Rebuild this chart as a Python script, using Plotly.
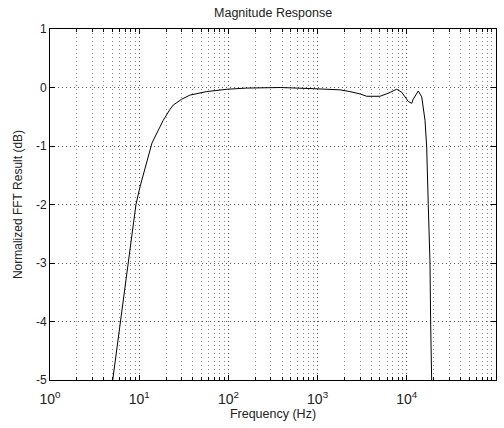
import plotly.graph_objects as go

freq_hz = [5.05, 6.2, 7.55, 9.2, 10.2, 12.0, 13.9, 17.0, 18.6, 22.0, 24.1, 30.0, 37.0,
           57.0, 96.0, 160.0, 380.0, 890.0, 1380.0, 1780.0, 2300.0, 3000.0, 3550.0,
           5000.0, 6150.0, 7700.0, 8770.0, 9600.0, 10400.0, 11350.0, 11800.0, 13450.0,
           14700.0, 16000.0, 16700.0, 17400.0, 18200.0, 18500.0, 19000.0]
mag_db = [-5.0, -4.0, -3.0, -2.0, -1.7, -1.3, -0.95, -0.68, -0.56, -0.38, -0.3, -0.2, -0.13,
          -0.07, -0.03, -0.01, 0.0, -0.02, -0.03, -0.04, -0.07, -0.11, -0.15,
          -0.15, -0.1, -0.03, -0.08, -0.17, -0.24, -0.27, -0.2, -0.06,
          -0.16, -0.56, -1.01, -2.0, -3.0, -4.0, -5.0]

x_tickvals = [1, 10, 100, 1000, 10000, 100000]
x_ticktext = ["10<sup>0</sup>", "10<sup>1</sup>", "10<sup>2</sup>", "10<sup>3</sup>",
              "10<sup>4</sup>", "10<sup>5</sup>"]
y_tickvals = [-5, -4, -3, -2, -1, 0, 1]
y_ticktext = ["-5", "-4", "-3", "-2", "-1", "0", "1"]

font = "Liberation Sans, Arial, Helvetica, sans-serif"
txt = "#222222"

fig = go.Figure()
fig.add_trace(go.Scatter(x=freq_hz, y=mag_db, mode="lines",
                         line=dict(color="black", width=1), showlegend=False))

fig.update_layout(
    width=504, height=428,
    margin=dict(l=50, r=8, t=29, b=48),
    paper_bgcolor="white", plot_bgcolor="white",
    font=dict(family=font, color=txt, size=12),
    title=dict(text="Magnitude Response", x=0.5419, xanchor="center",
               y=1 - 13 / 428, yanchor="middle", font=dict(size=12.5, color=txt)),
)
fig.update_xaxes(
    type="log", range=[0, 5],
    tickvals=x_tickvals, ticktext=x_ticktext,
    tickfont=dict(size=14, color=txt), ticklabelstandoff=6,
    ticks="inside", ticklen=5, tickcolor="black",
    showline=True, linecolor="black", linewidth=1, mirror="ticks",
    showgrid=True, gridcolor="#555555", griddash="1px,3px", gridwidth=1,
    minor=dict(dtick="D1", ticks="inside", ticklen=3, tickcolor="black",
               showgrid=True, gridcolor="#888888", griddash="1px,3px", gridwidth=1),
    title=dict(text="Frequency (Hz)", font=dict(size=12.5, color=txt), standoff=2),
    zeroline=False,
)
fig.update_yaxes(
    range=[-5, 1], tickvals=y_tickvals, ticktext=y_ticktext,
    tickfont=dict(size=12, color=txt),
    ticks="inside", ticklen=5, tickcolor="black",
    showline=True, linecolor="black", linewidth=1, mirror="ticks",
    showgrid=True, gridcolor="#555555", griddash="1px,3px", gridwidth=1,
    title=dict(text="Normalized FFT Result (dB)", font=dict(size=12, color=txt), standoff=10),
    zeroline=False,
)

fig.write_html("out.html")
